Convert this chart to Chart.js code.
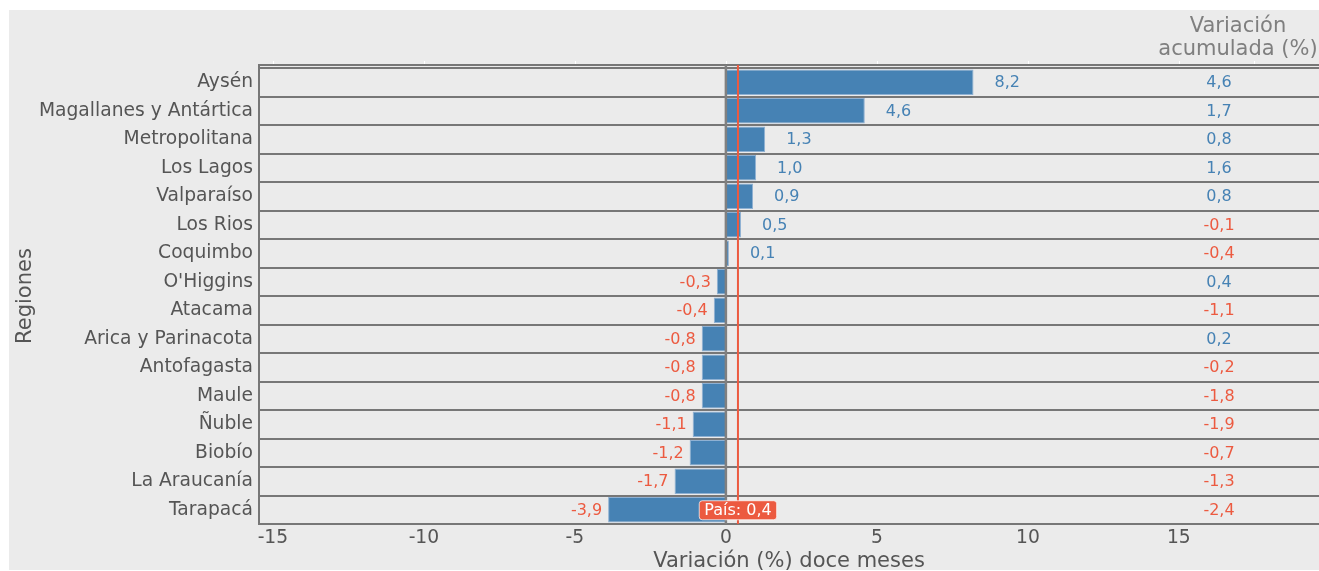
<!DOCTYPE html>
<html><head><meta charset="utf-8">
<script src="https://cdn.jsdelivr.net/npm/chart.js@4/dist/chart.umd.min.js"></script>
<style>
html,body{margin:0;padding:0;background:#fff;}
#wrap{position:absolute;left:9px;top:10px;width:1310px;height:560px;background:#ebebeb;}
</style></head><body>
<div id="wrap"><canvas id="c"></canvas></div>
<script>
const regions = ['Aysén','Magallanes y Antártica','Metropolitana','Los Lagos','Valparaíso','Los Rios','Coquimbo',"O'Higgins",'Atacama','Arica y Parinacota','Antofagasta','Maule','Ñuble','Biobío','La Araucanía','Tarapacá'];
const twelveMonth = [8.2, 4.6, 1.3, 1.0, 0.9, 0.5, 0.1, -0.3, -0.4, -0.8, -0.8, -0.8, -1.1, -1.2, -1.7, -3.9];
const accumulated = [4.6, 1.7, 0.8, 1.6, 0.8, -0.1, -0.4, 0.4, -1.1, 0.2, -0.2, -1.8, -1.9, -0.7, -1.3, -2.4];
const xTicks = [-15, -10, -5, 0, 5, 10, 15];
const countryValue = 0.4;
const countryLabel = 'País: 0,4';
const accumTitle = ['Variación', 'acumulada (%)'];

const BLUE = '#4682b4', RED = '#ec5a40', GRID = '#777777', TXT = '#555555';
const fmt = v => v.toFixed(1).replace('.', ',');

const overlay = {
  id: 'overlay',
  afterDatasetsDraw(chart) {
    const ctx = chart.ctx, ca = chart.chartArea;
    const xs = chart.scales.x, ys = chart.scales.y;
    ctx.save();
    // top double line + small white ticks
    ctx.strokeStyle = GRID; ctx.lineWidth = 2;
    ctx.beginPath(); ctx.moveTo(ca.left, ca.top - 3); ctx.lineTo(ca.right, ca.top - 3); ctx.stroke();
    ctx.beginPath(); ctx.moveTo(ca.left, ca.top - 4); ctx.lineTo(ca.left, ca.top); ctx.stroke();
    ctx.strokeStyle = '#ffffff'; ctx.lineWidth = 1;
    xTicks.concat([17.5]).forEach(v => {
      const px = Math.round(xs.getPixelForValue(v)) + 0.5;
      ctx.beginPath(); ctx.moveTo(px, ca.top - 7); ctx.lineTo(px, ca.top - 4); ctx.stroke();
    });
    // zero line
    const x0 = xs.getPixelForValue(0);
    ctx.strokeStyle = '#808080'; ctx.lineWidth = 2.5;
    ctx.beginPath(); ctx.moveTo(x0, ca.top - 3); ctx.lineTo(x0, ca.bottom); ctx.stroke();
    // country line
    const xc = xs.getPixelForValue(countryValue);
    ctx.strokeStyle = RED; ctx.lineWidth = 2;
    ctx.beginPath(); ctx.moveTo(xc, ca.top - 3); ctx.lineTo(xc, ca.bottom); ctx.stroke();
    // value labels
    ctx.font = '16px "DejaVu Sans"';
    ctx.textBaseline = 'middle';
    const meta = chart.getDatasetMeta(0);
    meta.data.forEach((bar, i) => {
      const v = twelveMonth[i];
      ctx.fillStyle = v >= 0 ? BLUE : RED;
      if (v >= 0) { ctx.textAlign = 'left'; ctx.fillText(fmt(v), bar.x + 21, bar.y + 1); }
      else { ctx.textAlign = 'right'; ctx.fillText(fmt(v), bar.x - 6, bar.y + 1); }
    });
    // accumulated column
    ctx.textAlign = 'center';
    regions.forEach((r, i) => {
      const v = accumulated[i];
      ctx.fillStyle = v >= 0 ? BLUE : RED;
      ctx.fillText(fmt(v), ca.right - 100, ys.getPixelForValue(i) + 1);
    });
    // header
    ctx.fillStyle = '#7f7f7f';
    ctx.font = '21px "DejaVu Sans"';
    ctx.textBaseline = 'alphabetic';
    ctx.fillText(accumTitle[0], ca.right - 81, 22);
    ctx.fillText(accumTitle[1], ca.right - 81, 45);
    // country box
    ctx.font = '16px "DejaVu Sans"';
    const tw = ctx.measureText(countryLabel).width;
    const bw = tw + 10, bh = 19;
    const by = ys.getPixelForValue(regions.length - 1) - bh / 2 + 0.5;
    ctx.fillStyle = RED; ctx.strokeStyle = 'rgba(255,255,255,0.7)'; ctx.lineWidth = 1;
    ctx.beginPath(); ctx.roundRect(xc - bw / 2, by, bw, bh, 3); ctx.fill(); ctx.stroke();
    ctx.fillStyle = '#ffffff'; ctx.textBaseline = 'middle'; ctx.textAlign = 'center';
    ctx.fillText(countryLabel, xc, by + bh / 2 + 1);
    ctx.restore();
  }
};

new Chart(document.getElementById('c'), {
  type: 'bar',
  data: {
    labels: regions,
    datasets: [{
      data: twelveMonth,
      backgroundColor: BLUE,
      borderColor: '#8fb1d3',
      borderWidth: 1,
      barPercentage: 0.9,
      categoryPercentage: 1.0
    }]
  },
  options: {
    indexAxis: 'y',
    responsive: true,
    maintainAspectRatio: false,
    animation: false,
    layout: { padding: { top: 58, left: 0, right: 0, bottom: 0 } },
    plugins: { legend: { display: false }, tooltip: { enabled: false } },
    scales: {
      x: {
        type: 'linear', min: -15.46, max: 19.64,
        afterBuildTicks: s => { s.ticks = xTicks.map(v => ({ value: v })); },
        afterFit: s => { s.height = 46; },
        grid: { display: false, drawTicks: false },
        border: { display: false },
        ticks: { padding: 3, color: TXT, font: { family: 'DejaVu Sans', size: 18.7 }, callback: v => String(v) },
        title: { display: true, text: 'Variación (%) doce meses', color: TXT, font: { family: 'DejaVu Sans', size: 21, lineHeight: 0.8 }, padding: { top: 0, bottom: 0 } }
      },
      y: {
        type: 'category', offset: true,
        afterFit: s => { s.width = 250; },
        grid: { display: true, offset: true, color: GRID, lineWidth: 2, drawTicks: false },
        border: { display: true, color: GRID, width: 2 },
        ticks: { padding: 6, color: TXT, font: { family: 'DejaVu Sans', size: 18.7 } },
        title: { display: true, text: 'Regiones', color: TXT, font: { family: 'DejaVu Sans', size: 21 }, padding: { top: 4, bottom: 0 } }
      }
    }
  },
  plugins: [overlay]
});
</script>
</body></html>
